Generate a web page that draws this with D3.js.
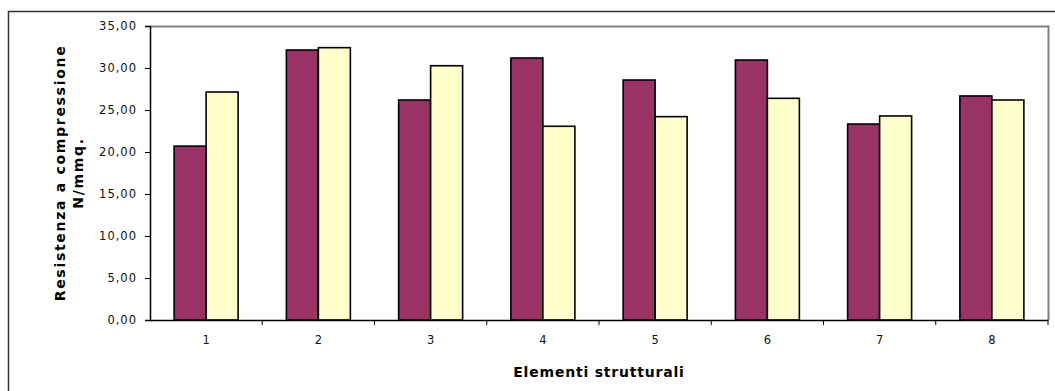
<!DOCTYPE html>
<html>
<head>
<meta charset="utf-8">
<script src="https://cdn.jsdelivr.net/npm/d3@7"></script>
<style>
  body { margin: 0; background: #fff; }
  svg { display: block; }
</style>
</head>
<body>
<svg id="chart"></svg>
<script>
// data
const categories = ["1", "2", "3", "4", "5", "6", "7", "8"];
const serieA = [20.70, 32.14, 26.19, 31.19, 28.57, 30.95, 23.33, 26.67];
const serieB = [27.14, 32.42, 30.27, 23.06, 24.21, 26.39, 24.29, 26.19];
const yTicks = [0, 5, 10, 15, 20, 25, 30, 35];

const W = 1055, H = 391;
const margin = {top: 26, right: 7, bottom: 71, left: 150};
const width = W - margin.left - margin.right,
      height = H - margin.top - margin.bottom;

const svg = d3.select("#chart").attr("width", W).attr("height", H);

// outer chart border
svg.append("rect")
    .attr("x", 8.5).attr("y", 11.5)
    .attr("width", W + 10).attr("height", H + 10)
    .attr("fill", "none")
    .attr("stroke", "#333")
    .attr("stroke-width", 1.5);

const g = svg.append("g")
    .attr("transform", `translate(${margin.left},${margin.top})`);

const it = d3.formatLocale({decimal: ",", thousands: ".", grouping: [3], currency: ["€", ""]});

// scales
const x0 = d3.scaleBand().domain(categories).range([0, width]).paddingInner(0).paddingOuter(0);
const x1 = d3.scaleBand().domain(["A", "B"]).range([x0.bandwidth() * 0.215, x0.bandwidth() * 0.785]);
const y = d3.scaleLinear().domain([0, 35]).range([height, 0]);
const color = {A: "#993366", B: "#FFFFCC"};

// plot area border (gray top/right)
g.append("path")
    .attr("d", `M0.5,0.5H${width + 0.5}V${height}`)
    .attr("fill", "none")
    .attr("stroke", "#808080")
    .attr("stroke-width", 2);

// bars
const rows = categories.map((c, i) => ({cat: c, A: serieA[i], B: serieB[i]}));
g.selectAll("g.grp")
  .data(rows)
  .join("g")
    .attr("class", "grp")
    .attr("transform", d => `translate(${x0(d.cat)},0)`)
  .selectAll("rect")
  .data(d => ["A", "B"].map(k => ({key: k, value: d[k]})))
  .join("rect")
    .attr("x", d => x1(d.key))
    .attr("y", d => y(d.value))
    .attr("width", x1.bandwidth())
    .attr("height", d => height - y(d.value))
    .attr("fill", d => color[d.key])
    .attr("stroke", "#000")
    .attr("stroke-width", 1.6);

// y axis
const yAxis = g.append("g")
    .call(d3.axisLeft(y).tickValues(yTicks).tickFormat(it.format(".2f")).tickSize(5).tickPadding(8));
yAxis.select(".domain").attr("stroke", "#000").attr("stroke-width", 1.5);
yAxis.selectAll("text")
    .style("font-family", "DejaVu Sans")
    .style("font-size", "11.5px")
    .style("letter-spacing", "1px")
    .attr("fill", "#111");

// x axis, ticks at category borders
const xAxis = g.append("g")
    .attr("transform", `translate(0,${height})`)
    .call(d3.axisBottom(x0).tickSize(0).tickPadding(16));
xAxis.select(".domain").attr("stroke", "#000").attr("stroke-width", 1.5);
xAxis.selectAll("text")
    .style("font-family", "DejaVu Sans")
    .style("font-size", "11.5px")
    .attr("fill", "#111");
xAxis.selectAll(".sep")
  .data(categories.slice(1).concat([null]))
  .join("line")
    .attr("class", "sep")
    .attr("x1", (d, i) => x0.step() * (i + 1))
    .attr("x2", (d, i) => x0.step() * (i + 1))
    .attr("y1", 0).attr("y2", 5)
    .attr("stroke", "#000");

// titles
g.append("text")
    .attr("x", width / 2)
    .attr("y", height + 57)
    .attr("text-anchor", "middle")
    .style("font-family", "DejaVu Sans")
    .style("font-size", "14px")
    .style("font-weight", "bold")
    .style("letter-spacing", "0.8px")
    .text("Elementi strutturali");

const yt = svg.append("text")
    .attr("transform", `translate(0,173) rotate(-90)`)
    .attr("text-anchor", "middle")
    .style("font-family", "DejaVu Sans")
    .style("font-size", "14px")
    .style("font-weight", "bold")
    .style("letter-spacing", "1.7px");
yt.append("tspan").attr("x", 0).attr("y", 65).text("Resistenza a compressione");
yt.append("tspan").attr("x", 0).attr("y", 83).text("N/mmq.");
</script>
</body>
</html>
